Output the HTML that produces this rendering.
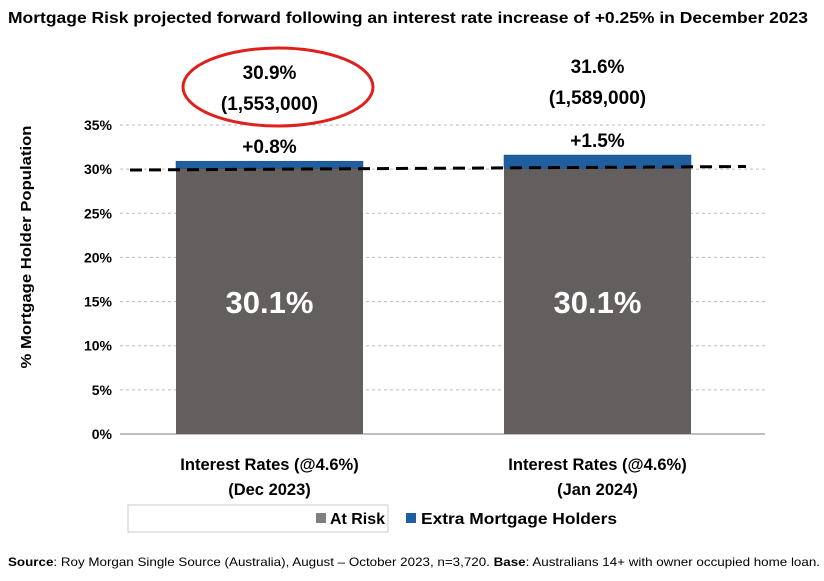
<!DOCTYPE html>
<html><head><meta charset="utf-8"><style>
body{margin:0;background:#fff;width:824px;height:576px;overflow:hidden;font-family:"Liberation Sans",sans-serif}
svg text{font-family:"Liberation Sans",sans-serif}
</style></head><body>
<svg id="c" width="824" height="576" xmlns="http://www.w3.org/2000/svg">
<text x="8" y="23" font-size="15.5" font-weight="bold" fill="#000" textLength="800" lengthAdjust="spacingAndGlyphs">Mortgage Risk projected forward following an interest rate increase of +0.25% in December 2023</text>
<text transform="translate(31,247) rotate(-90)" text-anchor="middle" font-size="15" font-weight="bold" textLength="243" lengthAdjust="spacingAndGlyphs">% Mortgage Holder Population</text>
<g id="grid"></g><g id="bars"></g><g id="labels"></g>
<rect x="128" y="505" width="260" height="27" fill="#fff" stroke="#ccc"/>
<rect x="316" y="513" width="10" height="10" fill="#7f7f7f"/>
<text x="330" y="524" font-size="16" font-weight="bold" textLength="55" lengthAdjust="spacingAndGlyphs">At Risk</text>
<rect x="406" y="513" width="10" height="10" fill="#1f5fa0"/>
<text x="421" y="524" font-size="16" font-weight="bold" textLength="196" lengthAdjust="spacingAndGlyphs">Extra Mortgage Holders</text>
<text x="8" y="566" font-size="12" textLength="812" lengthAdjust="spacingAndGlyphs"><tspan font-weight="bold">Source</tspan>: Roy Morgan Single Source (Australia), August – October 2023, n=3,720. <tspan font-weight="bold">Base</tspan>: Australians 14+ with owner occupied home loan.</text>
<ellipse cx="278" cy="87" rx="95" ry="39" fill="none" stroke="#e0201b" stroke-width="3"/>
</svg>
<script>
const categories=["Interest Rates (@4.6%)|(Dec 2023)","Interest Rates (@4.6%)|(Jan 2024)"];
const atRisk=[30.1,30.1];
const extra=[0.8,1.5];
const totals=["30.9%","31.6%"];
const counts=["(1,553,000)","(1,589,000)"];
const ticks=[0,5,10,15,20,25,30,35];
const trend=[29.9,30.3];
const NS="http://www.w3.org/2000/svg";
const y=v=>434-v*(434-125)/35;
const bandX=i=>120+i*328;const bw=187,bo=56;
function el(t,a,p){const e=document.createElementNS(NS,t);for(const k in a)e.setAttribute(k,a[k]);document.getElementById(p).appendChild(e);return e;}
ticks.forEach(t=>{
 const l=el('line',{x1:120,x2:765,y1:y(t),y2:y(t),stroke:t===0?'#aaa':'#bbb','stroke-dasharray':t===0?'':'3,3','stroke-width':t===0?1.5:1},'grid');
 
 
 const tx=el('text',{x:112,y:y(t)+5,'text-anchor':'end','font-size':14,'font-weight':'bold'},'grid');tx.textContent=t+'%';
 
 
});
categories.forEach((c,i)=>{
 const x=bandX(i)+bo;
 const b=el('rect',{x:x,y:y(atRisk[i]),width:bw,height:y(0)-y(atRisk[i]),fill:'#645f5f'},'bars');
 
 
 const e=el('rect',{x:x,y:y(atRisk[i]+extra[i]),width:bw,height:y(atRisk[i])-y(atRisk[i]+extra[i]),fill:'#1f5fa0',stroke:'#174a80','stroke-width':0.5},'bars');
 
 
 const cx=x+bw/2;
 const v=el('text',{x:cx,y:y(atRisk[i]/2)+12,'text-anchor':'middle','font-size':31,'font-weight':'bold',fill:'#fff'},'labels');v.textContent=atRisk[i].toFixed(1)+'%';
 
 
 const d=el('text',{x:cx,y:y(atRisk[i]+extra[i])-8,'text-anchor':'middle','font-size':19,'font-weight':'bold'},'labels');d.textContent='+'+extra[i].toFixed(1)+'%';
 
 
 const t1=el('text',{x:cx,y:y(atRisk[i]+extra[i])-82,'text-anchor':'middle','font-size':19,'font-weight':'bold'},'labels');t1.textContent=totals[i];
 
 
 const t2=el('text',{x:cx,y:y(atRisk[i]+extra[i])-51,'text-anchor':'middle','font-size':19,'font-weight':'bold'},'labels');t2.textContent=counts[i];
 
 
 const parts=c.split('|');
 parts.forEach((p,j)=>{const a=el('text',{x:cx,y:470+j*25,'text-anchor':'middle','font-size':16.5,'font-weight':'bold'},'labels');a.textContent=p;
 
 });
});
const tl=el('line',{x1:130,x2:746,y1:y(trend[0]),y2:y(trend[1]),stroke:'#000','stroke-width':3,'stroke-dasharray':'12,7'},'labels');


</script>
</body></html>
